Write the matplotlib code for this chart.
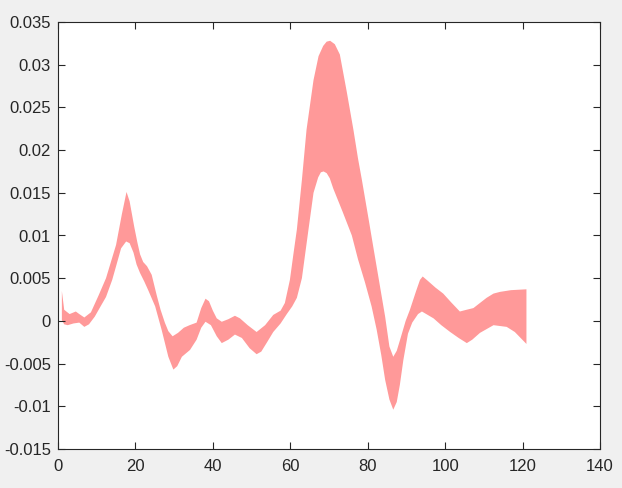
import numpy as np
import matplotlib.pyplot as plt

# upper edge of the band
x_upper = [1, 1.6, 3, 4.6, 5.5, 6.8, 8.5, 10.5, 12.4, 15, 16.5, 17.7, 18.5, 19.7,
           20.5, 21.2, 22, 23, 24.2, 25.5, 26.5, 27.6, 28.5, 29.6, 31, 32.5, 34,
           35.8, 37, 38.1, 39, 40, 41, 42.3, 44, 45.7, 47, 49, 51.3, 53.5, 55.6,
           57.5, 58.6, 59.9, 60.8, 61.7, 63, 64.2, 66, 67.3, 68.5, 69.4, 70.3,
           71.5, 72.8, 74.6, 76.3, 77.5, 78.5, 80.2, 81.5, 83, 84.5, 85.6, 86.6,
           87.5, 88.5, 89.8, 90.9, 92.5, 93.5, 94.2, 95.5, 97.5, 99.5, 101.5,
           103.8, 105.5, 107.3, 109, 110.7, 112.5, 114.2, 117, 121]
y_upper = [0.0035, 0.0013, 0.0008, 0.0011, 0.0008, 0.0004, 0.0010, 0.0030, 0.0050,
           0.0089, 0.0125, 0.0151, 0.0140, 0.0110, 0.0092, 0.0078, 0.0069, 0.0064,
           0.0054, 0.0030, 0.0013, -0.0002, -0.0012, -0.0018, -0.0014, -0.0008,
           -0.0005, -0.0002, 0.0015, 0.0026, 0.0023, 0.0012, 0.0003, -0.0001,
           0.0002, 0.0006, 0.0003, -0.0005, -0.0013, -0.0005, 0.0007, 0.0012,
           0.0021, 0.0048, 0.0078, 0.0107, 0.0165, 0.0224, 0.0282, 0.0310, 0.0322,
           0.0327, 0.0328, 0.0324, 0.0312, 0.0268, 0.0224, 0.0190, 0.0165, 0.0120,
           0.0085, 0.0045, 0.0005, -0.0030, -0.0042, -0.0035, -0.0020, 0.0000,
           0.0013, 0.0035, 0.0048, 0.0052, 0.0047, 0.0039, 0.0032, 0.0022, 0.0011,
           0.0013, 0.0015, 0.0021, 0.0027, 0.0032, 0.0034, 0.0036, 0.0037]

# lower edge of the band
x_lower = [1, 1.6, 2.5, 4, 5.5, 6.8, 8, 9.5, 11, 12.4, 14, 15, 16.3, 17.6, 18.5,
           19.5, 20.3, 21.2, 22.3, 23.3, 25.1, 26.8, 28.5, 29.8, 30.8, 32, 34.1,
           35.8, 37, 38.1, 39.5, 41, 42.3, 44, 45.7, 47.5, 49.5, 51.3, 52.5, 54,
           55.6, 57.5, 59.1, 60.5, 61.7, 63, 64.7, 66, 67.2, 67.9, 68.6, 69.4,
           70.2, 71.1, 73.5, 75.9, 77.5, 79.3, 81, 82.3, 83.5, 84.5, 85.6, 86.6,
           87.5, 88.3, 89.2, 90.4, 91.5, 93, 94, 97, 99, 101.3, 103.5, 105.6, 107,
           109, 112.5, 115.9, 118, 121]
y_lower = [0.0001, -0.0004, -0.0005, -0.0003, -0.0002, -0.0007, -0.0004, 0.0005,
           0.0017, 0.0028, 0.0048, 0.0064, 0.0085, 0.0093, 0.0091, 0.0080, 0.0066,
           0.0056, 0.0046, 0.0036, 0.0017, -0.0011, -0.0042, -0.0057, -0.0053,
           -0.0042, -0.0034, -0.0022, -0.0008, -0.0001, -0.0005, -0.0018, -0.0026,
           -0.0022, -0.0016, -0.0020, -0.0032, -0.0039, -0.0036, -0.0025, -0.0013,
           -0.0003, 0.0008, 0.0017, 0.0027, 0.0050, 0.0107, 0.0150, 0.0168, 0.0174,
           0.0175, 0.0173, 0.0167, 0.0155, 0.0128, 0.0100, 0.0072, 0.0045, 0.0017,
           -0.0010, -0.0040, -0.0069, -0.0092, -0.0104, -0.0095, -0.0075, -0.0046,
           -0.0015, -0.0002, 0.0008, 0.0011, 0.0003, -0.0005, -0.0013, -0.0020,
           -0.0026, -0.0022, -0.0014, -0.0005, -0.0007, -0.0013, -0.0027]

x_ticks = [0, 20, 40, 60, 80, 100, 120, 140]
y_ticks = [-0.015, -0.01, -0.005, 0, 0.005, 0.01, 0.015, 0.02, 0.025, 0.03, 0.035]
y_labels = ['-0.015', '-0.01', '-0.005', '0', '0.005', '0.01', '0.015',
            '0.02', '0.025', '0.03', '0.035']

plt.rcParams['font.family'] = ['Liberation Sans', 'DejaVu Sans']

fig = plt.figure(figsize=(6.22, 4.88), dpi=100, facecolor='#f0f0f0')
ax = fig.add_axes([58 / 622, 39 / 488, 542 / 622, 427 / 488])

# band as one polygon: upper edge left to right, lower edge back
poly_x = np.concatenate([x_upper, x_lower[::-1]])
poly_y = np.concatenate([y_upper, y_lower[::-1]])
ax.fill(poly_x, poly_y, color='#ff9999', linewidth=0)

ax.set_xlim(0, 140)
ax.set_ylim(-0.015, 0.035)
ax.set_xticks(x_ticks)
ax.set_yticks(y_ticks)
ax.set_yticklabels(y_labels)
ax.tick_params(direction='in', length=5, width=0.8, colors='#262626',
               labelsize=12, top=True, right=True, pad=5)
ax.tick_params(axis='x', pad=7)
for s in ax.spines.values():
    s.set_color('#262626')
    s.set_linewidth(0.8)

fig.savefig('out.png', dpi=100, facecolor=fig.get_facecolor())
